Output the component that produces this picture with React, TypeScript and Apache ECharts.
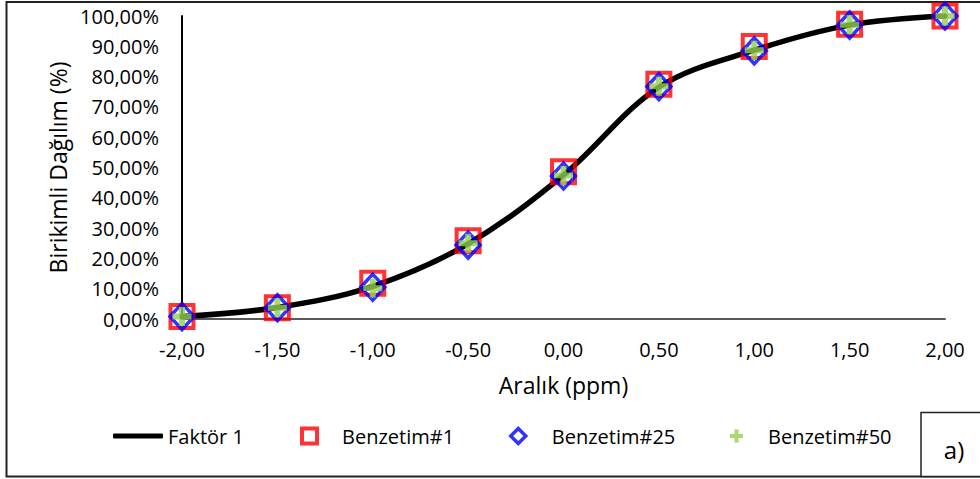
import React, { useEffect, useRef } from "react";
import * as echarts from "echarts";

const xValues = [-2, -1.5, -1, -0.5, 0, 0.5, 1, 1.5, 2];
const faktor1 = [0.8, 3.8, 10.8, 24.8, 47.5, 76.5, 88.7, 97.0, 100];
const benzetim1 = [0.8, 3.7, 11.8, 25.8, 48.6, 77.5, 89.9, 97.3, 100];
const benzetim25 = [0.8, 3.7, 10.5, 24.4, 47.2, 76.7, 88.5, 97.0, 100];
const benzetim50 = [0.8, 3.7, 10.2, 25.0, 47.4, 76.8, 88.7, 97.1, 100];
const seriesNames = ["Faktör 1", "Benzetim#1", "Benzetim#25", "Benzetim#50"];

const FONT = "Open Sans";
const PLUS = "path://M5.5,0H10.5V5.5H16V10.5H10.5V16H5.5V10.5H0V5.5H5.5Z";

const pairs = (ys: number[]) => xValues.map((x, i) => [x, ys[i]]);
const fmt = (v: number, d: number) => v.toFixed(d).replace(".", ",");

export default function App() {
  const ref = useRef<HTMLDivElement>(null);
  useEffect(() => {
    if (!ref.current) return;
    const chart = echarts.init(ref.current, null, { renderer: "svg" });
    const legendBase = {
      orient: "horizontal",
      top: 426,
      padding: 0,
      itemHeight: 14,
    };
    const legendText = (pad: number) => ({
      fontFamily: FONT,
      fontSize: 20,
      color: "#000",
      padding: [0, 0, 0, pad],
    });
    chart.setOption({
      animation: false,
      backgroundColor: "#fff",
      grid: { left: 182, right: 35, top: 16, bottom: 160 },
      xAxis: {
        type: "value",
        min: -2,
        max: 2,
        interval: 0.5,
        name: "Aralık (ppm)",
        nameLocation: "middle",
        nameGap: 54,
        nameTextStyle: { fontFamily: FONT, fontSize: 23, color: "#000" },
        axisLine: { show: true, onZero: false, lineStyle: { color: "#595959", width: 2 } },
        axisTick: { show: false },
        splitLine: { show: false },
        axisLabel: {
          margin: 20,
          fontFamily: FONT,
          fontSize: 20,
          color: "#000",
          formatter: (v: number) => fmt(v, 2),
        },
      },
      yAxis: {
        type: "value",
        min: 0,
        max: 100,
        interval: 10,
        name: "Birikimli Dağılım (%)",
        nameLocation: "middle",
        nameRotate: 90,
        nameGap: 112,
        nameTextStyle: { fontFamily: FONT, fontSize: 23, color: "#000" },
        axisLine: { show: true, onZero: false, lineStyle: { color: "#000", width: 2 } },
        axisTick: { show: false },
        splitLine: { show: false },
        axisLabel: {
          margin: 23,
          fontFamily: FONT,
          fontSize: 20,
          color: "#000",
          formatter: (v: number) => fmt(v, 2) + "%",
        },
      },
      legend: [
        {
          ...legendBase,
          left: 113,
          itemWidth: 50,
          itemHeight: 5,
          textStyle: legendText(0),
          data: [{ name: seriesNames[0], icon: "roundRect" }],
        },
        {
          ...legendBase,
          left: 300,
          itemWidth: 15,
          itemHeight: 15,
          textStyle: legendText(20),
          itemStyle: { borderWidth: 4 },
          data: [seriesNames[1]],
        },
        {
          ...legendBase,
          left: 509,
          itemWidth: 15,
          itemHeight: 15,
          textStyle: legendText(21),
          itemStyle: { borderWidth: 3.5 },
          data: [seriesNames[2]],
        },
        {
          ...legendBase,
          left: 730,
          itemWidth: 13,
          itemHeight: 13,
          textStyle: legendText(20),
          data: [seriesNames[3]],
        },
      ],
      series: [
        {
          name: seriesNames[0],
          type: "line",
          data: pairs(faktor1),
          smooth: 0.35,
          symbol: "none",
          lineStyle: { color: "#000", width: 5.5, cap: "round" },
          itemStyle: { color: "#000" },
          z: 1,
        },
        {
          name: seriesNames[1],
          type: "scatter",
          data: pairs(benzetim1),
          symbol: "rect",
          symbolSize: 23,
          itemStyle: { color: "rgba(0,0,0,0)", borderColor: "#FF0000", borderWidth: 4 },
          z: 2,
        },
        {
          name: seriesNames[2],
          type: "scatter",
          data: pairs(benzetim25),
          symbol: "diamond",
          symbolSize: [24, 26],
          itemStyle: { color: "rgba(0,0,0,0)", borderColor: "#0000FF", borderWidth: 3.5 },
          z: 3,
        },
        {
          name: seriesNames[3],
          type: "scatter",
          data: pairs(benzetim50),
          symbol: PLUS,
          symbolSize: 19,
          itemStyle: { color: "#92D050" },
          z: 4,
        },
      ],
      graphic: [
        {
          type: "rect",
          shape: { x: 6.5, y: 2, width: 990, height: 474.5 },
          style: { fill: "none", stroke: "#222", lineWidth: 2 },
          silent: true,
        },
        {
          type: "rect",
          shape: { x: 921, y: 412.5, width: 70, height: 64 },
          style: { fill: "#fff", stroke: "#222", lineWidth: 1.5 },
          silent: true,
        },
        {
          type: "text",
          x: 954,
          y: 449,
          style: {
            text: "a)",
            fontFamily: FONT,
            fontSize: 24,
            fill: "#000",
            align: "center",
            verticalAlign: "middle",
          },
          silent: true,
        },
      ],
    });
    return () => chart.dispose();
  }, []);
  return (
    <div
      ref={ref}
      style={{ position: "fixed", left: 0, top: 0, width: 980, height: 479, background: "#fff" }}
    />
  );
}
